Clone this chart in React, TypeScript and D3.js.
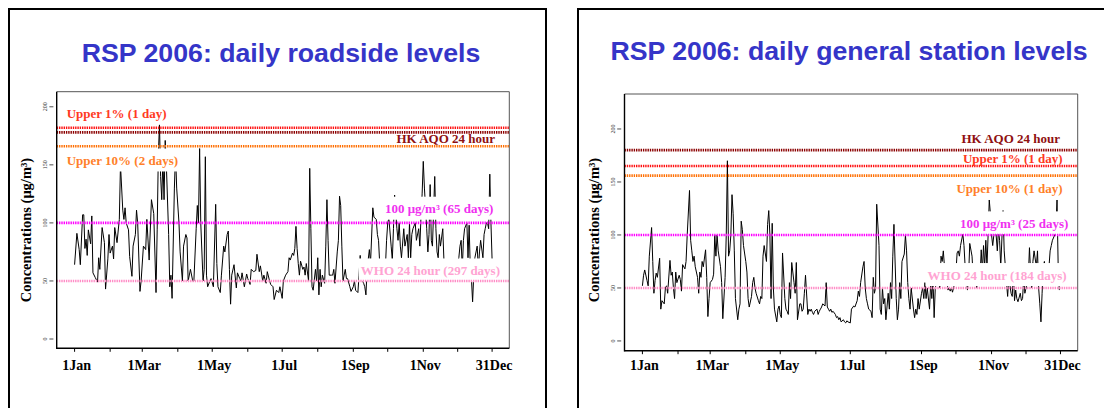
import React, { useEffect, useRef } from "react";
import * as d3 from "d3";

// ---------- DATA ----------
const monthTickDays = [0, 31, 59, 90, 120, 151, 181, 212, 243, 273, 304, 334, 364];
const monthTickLabels = ["1Jan", "", "1Mar", "", "1May", "", "1Jul", "", "1Sep", "", "1Nov", "", "31Dec"];
const yTickValues = [0, 50, 100, 150, 200];

const refKeys = ["upper1", "aqo", "upper10", "level100", "who"];

const roadsideTitle = "RSP 2006: daily roadside levels";
const roadsideRefValues = [182, 178, 166, 100, 50];
const roadsideRefLabels = ["Upper 1% (1 day)", "HK AQO 24 hour", "Upper 10% (2 days)", "100 μg/m³ (65 days)", "WHO 24 hour (297 days)"];

const generalTitle = "RSP 2006: daily general station levels";
const generalRefValues = [165, 180, 156, 100, 50];
const generalRefLabels = ["Upper 1% (1 day)", "HK AQO 24 hour", "Upper 10% (1 day)", "100 μg/m³ (25 days)", "WHO 24 hour (184 days)"];

const roadsideDays = [0,2,4,5,7,8,9,10,11,12,14,15,16,18,20,21,22,24,26,27,29,30,31,33,34,35,37,39,40,42,43,44,45,47,48,50,51,53,54,55,57,58,60,62,63,65,67,69,71,72,73,74,75,76,77,78,79,80,82,83,84,85,87,88,89,91,92,94,95,97,98,99,101,103,104,106,107,108,109,110,112,113,114,115,116,118,119,121,123,124,125,127,128,130,131,133,134,135,136,137,139,141,142,144,145,146,148,150,151,153,154,156,158,159,161,162,164,165,167,168,170,171,173,174,176,178,179,181,
182,184,186,187,188,190,191,192,193,194,195,196,197,199,200,201,202,204,205,206,207,208,210,211,212,213,214,215,216,218,219,220,221,222,224,225,226,227,229,230,231,232,233,234,236,237,238,240,241,243,244,245,247,248,249,250,252,253,254,255,257,258,260,261,263,264,265,266,268,269,271,272,273,274,276,277,278,279,281,282,283,284,285,287,288,290,291,292,293,294,295,297,298,300,301,302,303,304,305,307,308,309,310,311,312,314,315,316,317,318,319,321,322,323,324,325,326,327,329,330,331,332,333,335,336,337,338,339,340,342,343,344,345,346,347,348,349,351,352,353,354,356,357,358,359,360,361,362,363,364];
const roadsideValues = [64,91,77,64,107,107,78,86,72,94,82,106,57,53,49,70,60,96,83,43,69,90,74,80,69,96,83,103,150,111,103,113,100,94,71,54,80,90,111,100,41,50,80,77,103,68,120,108,40,94,158,185,140,120,155,120,171,150,90,45,55,35,130,160,130,100,75,50,80,90,87,50,60,50,50,95,115,100,164,100,50,60,157,55,45,50,52,45,116,65,45,40,55,80,75,90,93,60,30,55,64,44,57,52,50,57,45,56,52,47,60,58,59,73,58,63,50,55,48,58,50,47,45,34,42,40,45,35,
50,55,58,70,68,74,72,78,97,78,65,55,67,60,62,55,65,50,147,95,45,42,60,50,70,38,60,45,55,48,80,120,85,55,55,55,60,48,75,85,123,115,80,50,60,52,52,45,41,45,50,42,40,55,72,52,48,45,38,60,77,65,113,105,103,90,85,65,60,65,62,85,100,104,80,68,95,124,95,85,100,80,70,95,80,90,70,100,70,90,95,100,85,95,80,105,125,153,130,95,75,90,133,85,80,140,95,75,70,90,80,95,68,62,66,58,66,60,65,56,60,55,60,70,80,85,60,85,95,100,70,98,60,52,32,55,70,80,60,75,85,70,90,95,100,100,95,142,100,68];

const generalDays = [0,1,2,4,5,6,8,9,10,11,12,13,15,16,17,19,20,21,22,24,25,26,27,28,29,30,32,33,34,35,37,38,39,41,42,43,44,45,46,48,49,50,51,52,53,55,56,57,58,59,61,62,63,64,65,66,68,69,70,72,73,74,75,76,77,78,79,80,81,83,84,85,86,87,88,90,91,92,93,95,96,97,98,99,101,102,103,104,105,106,108,109,110,111,112,113,114,115,117,118,119,120,121,122,124,125,126,127,128,129,130,132,133,134,135,137,138,139,140,141,142,144,145,146,147,148,149,150,152,153,154,155,156,157,159,160,161,162,163,164,165,166,168,169,170,171,172,173,175,176,177,178,179,181,
182,184,185,187,188,189,190,192,193,194,195,196,197,199,200,201,202,203,204,206,207,208,209,210,211,212,214,215,216,217,218,219,221,222,223,224,225,226,228,229,230,231,232,233,234,236,237,238,239,240,241,243,244,245,246,247,248,250,251,252,253,254,255,257,258,259,260,261,262,263,265,266,267,268,269,270,272,273,274,275,276,277,279,280,281,282,283,284,285,287,288,289,290,291,292,294,295,296,297,298,299,300,301,302,303,304,305,307,308,309,310,311,312,314,315,316,317,318,319,321,322,323,324,325,326,327,329,330,331,332,333,334,336,337,338,339,340,341,343,344,345,346,347,348,349,350,352,353,354,355,356,357,359,360,361,362,363];
const generalValues = [52,62,67,57,52,80,107,75,45,57,64,60,78,30,38,35,50,52,45,76,62,65,50,40,65,55,62,58,47,72,68,75,100,142,95,85,75,80,70,60,45,65,60,75,70,86,60,23,40,55,58,63,100,80,100,85,70,55,21,60,100,170,80,85,100,138,120,85,40,20,30,35,113,105,90,75,65,40,32,42,55,60,50,45,38,35,42,40,80,90,75,110,123,100,40,111,50,30,18,30,33,25,22,83,40,30,28,25,55,40,74,55,45,74,20,35,35,28,30,45,62,25,30,28,30,27,25,28,30,25,28,30,32,35,33,55,32,30,28,30,27,28,25,22,23,20,22,18,20,18,17,19,18,17,
30,33,32,38,47,42,55,70,75,50,40,35,30,28,22,60,45,50,129,90,30,25,50,35,40,20,45,30,55,40,80,110,40,20,30,55,40,75,82,100,85,55,40,30,50,30,22,30,25,40,30,45,50,40,55,40,50,30,55,40,60,22,50,60,55,50,80,75,85,70,60,48,50,47,50,46,55,65,83,85,80,90,101,90,70,60,48,60,92,80,60,55,60,50,55,60,86,65,90,70,95,70,100,133,120,100,90,110,100,85,105,95,70,123,85,70,55,42,60,45,42,65,38,48,40,37,45,38,40,60,45,50,60,88,65,50,75,85,70,85,50,35,18,45,70,75,55,60,70,85,90,95,100,105,133,70,48];

// ---------- STYLE ----------
const refLineColors: Record<string, string> = {
  upper1: "#ff1010",
  aqo: "#8b0000",
  upper10: "#ff6e00",
  level100: "#ff00ff",
  who: "#ff8cc6",
};
const refTextColors: Record<string, string> = {
  upper1: "#ff3a1f",
  aqo: "#8f1010",
  upper10: "#ff7f2a",
  level100: "#f030f0",
  who: "#ffa3d2",
};

type LabelPos = { anchor: "start" | "end"; dx: number; dy: number };

interface PanelCfg {
  frameX: number;
  frameW: number;
  title: string;
  titleX: number;
  titleY: number;
  plot: { left: number; top: number; right: number; bottom: number };
  yDomain: [number, number];
  days: number[];
  values: number[];
  refValues: number[];
  refLabels: string[];
  labelPos: LabelPos[];
}

const xDomain: [number, number] = [-15.6, 379];

const panels: PanelCfg[] = [
  {
    frameX: 9,
    frameW: 537,
    title: roadsideTitle,
    titleX: 281,
    titleY: 62,
    plot: { left: 56.7, top: 91.7, right: 509.3, bottom: 348.3 },
    yDomain: [-8, 213],
    days: roadsideDays,
    values: roadsideValues,
    refValues: roadsideRefValues,
    refLabels: roadsideRefLabels,
    labelPos: [
      { anchor: "start", dx: 10, dy: -9.4 },
      { anchor: "end", dx: -14.3, dy: 11 },
      { anchor: "start", dx: 10, dy: 18.7 },
      { anchor: "end", dx: -16, dy: -9.7 },
      { anchor: "end", dx: -9.3, dy: -6 },
    ],
  },
  {
    frameX: 578,
    frameW: 540,
    title: generalTitle,
    titleX: 849,
    titleY: 59.5,
    plot: { left: 624.5, top: 94, right: 1077.7, bottom: 350.7 },
    yDomain: [-9.2, 233],
    days: generalDays,
    values: generalValues,
    refValues: generalRefValues,
    refLabels: generalRefLabels,
    labelPos: [
      { anchor: "end", dx: -15, dy: -3.2 },
      { anchor: "end", dx: -17.7, dy: -7.3 },
      { anchor: "end", dx: -15, dy: 17.3 },
      { anchor: "end", dx: -9.4, dy: -7.1 },
      { anchor: "end", dx: -11, dy: -8.4 },
    ],
  },
];

const serif = "'Liberation Serif', 'Times New Roman', serif";
const sans = "'Liberation Sans', Arial, sans-serif";

function drawPanel(svg: d3.Selection<SVGSVGElement, unknown, null, undefined>, p: PanelCfg, idx: number) {
  const g = svg.append("g");
  const { plot } = p;

  g.append("rect")
    .attr("x", p.frameX)
    .attr("y", 9)
    .attr("width", p.frameW)
    .attr("height", 430)
    .attr("fill", "white")
    .attr("stroke", "black")
    .attr("stroke-width", 2);

  g.append("text")
    .attr("x", p.titleX)
    .attr("y", p.titleY)
    .attr("text-anchor", "middle")
    .attr("font-family", sans)
    .attr("font-weight", "bold")
    .attr("font-size", 26.7)
    .attr("fill", "#3535c8")
    .text(p.title);

  const x = d3.scaleLinear().domain(xDomain).range([plot.left, plot.right]);
  const y = d3.scaleLinear().domain(p.yDomain).range([plot.bottom, plot.top]);

  const clipId = `clip-${idx}`;
  svg
    .append("defs")
    .append("clipPath")
    .attr("id", clipId)
    .append("rect")
    .attr("x", plot.left)
    .attr("y", plot.top)
    .attr("width", plot.right - plot.left)
    .attr("height", plot.bottom - plot.top);

  const gData = g.append("g").attr("clip-path", `url(#${clipId})`);
  const gRects = g.append("g");
  const gLines = g.append("g").attr("clip-path", `url(#${clipId})`);
  const gTexts = g.append("g");

  const pts = p.days.map((d, i) => [d, p.values[i]] as [number, number]);
  const line = d3
    .line<[number, number]>()
    .x((d) => x(d[0]))
    .y((d) => y(d[1]));
  gData
    .append("path")
    .attr("d", line(pts) || "")
    .attr("fill", "none")
    .attr("stroke", "black")
    .attr("stroke-width", 1)
    .attr("stroke-linejoin", "miter");

  refKeys.forEach((k, i) => {
    const yy = y(p.refValues[i]);
    gLines
      .append("line")
      .attr("x1", plot.left)
      .attr("x2", plot.right)
      .attr("y1", yy)
      .attr("y2", yy)
      .attr("stroke", refLineColors[k])
      .attr("stroke-width", 2.6)
      .attr("stroke-dasharray", "1.4 0.9");

    const lp = p.labelPos[i];
    const tx = lp.anchor === "start" ? plot.left + lp.dx : plot.right + lp.dx;
    const ty = yy + lp.dy;
    const t = gTexts
      .append("text")
      .attr("x", tx)
      .attr("y", ty)
      .attr("text-anchor", lp.anchor)
      .attr("font-family", serif)
      .attr("font-weight", "bold")
      .attr("font-size", 13)
      .attr("fill", refTextColors[k])
      .text(p.refLabels[i]);
    const bb = (t.node() as SVGTextElement).getBBox();
    gRects
      .append("rect")
      .attr("x", bb.x - 2)
      .attr("y", ty - 16.5)
      .attr("width", bb.width + 4)
      .attr("height", 23)
      .attr("fill", "white");
  });

  // frame
  g.append("line").attr("x1", plot.left).attr("x2", plot.right).attr("y1", plot.top).attr("y2", plot.top).attr("stroke", "#555").attr("stroke-width", 1);
  g.append("line").attr("x1", plot.right).attr("x2", plot.right).attr("y1", plot.top).attr("y2", plot.bottom).attr("stroke", "#555").attr("stroke-width", 1);
  g.append("line").attr("x1", plot.left).attr("x2", plot.left).attr("y1", plot.top).attr("y2", plot.bottom + 0.7).attr("stroke", "#000").attr("stroke-width", 1.4);
  g.append("line").attr("x1", plot.left).attr("x2", plot.right).attr("y1", plot.bottom).attr("y2", plot.bottom).attr("stroke", "#000").attr("stroke-width", 1.4);

  // x ticks
  monthTickDays.forEach((d, i) => {
    const xx = x(d);
    g.append("line").attr("x1", xx).attr("x2", xx).attr("y1", plot.bottom).attr("y2", plot.bottom + 3.5).attr("stroke", "#000").attr("stroke-width", 1);
    if (monthTickLabels[i]) {
      g.append("text")
        .attr("x", xx + 2)
        .attr("y", 370)
        .attr("text-anchor", "middle")
        .attr("font-family", serif)
        .attr("font-weight", "bold")
        .attr("font-size", 14)
        .attr("fill", "#000")
        .text(monthTickLabels[i]);
    }
  });

  // y ticks
  yTickValues.forEach((v) => {
    const yy = y(v);
    g.append("line").attr("x1", plot.left - 7.3).attr("x2", plot.left - 3.3).attr("y1", yy).attr("y2", yy).attr("stroke", "#222").attr("stroke-width", 0.8);
    g.append("text")
      .attr("transform", `translate(${plot.left - 10},${yy}) rotate(-90)`)
      .attr("text-anchor", "middle")
      .attr("font-family", serif)
      .attr("font-size", 6)
      .attr("fill", "#333")
      .text(String(v));
  });

  g.append("text")
    .attr("transform", `translate(${plot.left - 26},${230}) rotate(-90)`)
    .attr("text-anchor", "middle")
    .attr("font-family", serif)
    .attr("font-weight", "bold")
    .attr("font-size", 14.5)
    .attr("fill", "#000")
    .text("Concentrations (μg/m³)");
}

export default function App() {
  const ref = useRef<SVGSVGElement>(null);
  useEffect(() => {
    if (!ref.current) return;
    const svg = d3.select(ref.current);
    svg.selectAll("*").remove();
    panels.forEach((p, i) => drawPanel(svg as any, p, i));
  }, []);
  return (
    <svg
      ref={ref}
      width={1104}
      height={408}
      style={{ position: "absolute", left: 0, top: 0, background: "white" }}
    />
  );
}
